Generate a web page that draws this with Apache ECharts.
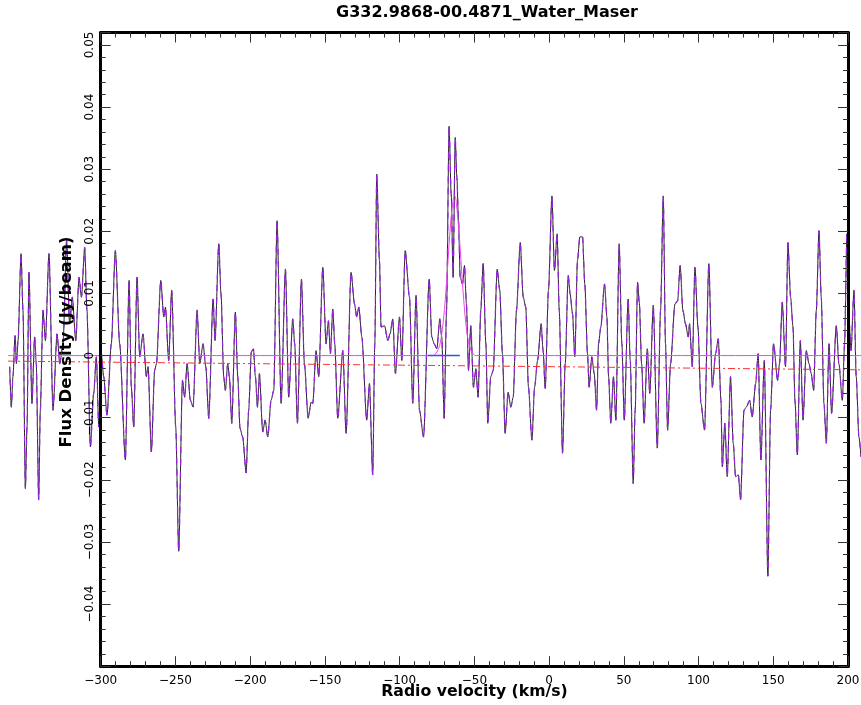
<!DOCTYPE html>
<html><head><meta charset="utf-8">
<script src="https://cdn.jsdelivr.net/npm/echarts@6/dist/echarts.min.js"></script>
<style>html,body{margin:0;padding:0;background:#fff}#c{width:861px;height:705px}</style>
</head><body><div id="c"></div>
<script>
const titleText = 'G332.9868-00.4871_Water_Maser';
const xTitle = 'Radio velocity (km/s)';
const yTitle = 'Flux Density (Jy/beam)';

const velocity = [
-360.9,-359.8,-358.7,-357.3,-356.4,-355.3,-353.3,-352.0,-350.4,-349.3,-348.0,-346.0,-344.2,-343.1,-341.5,-340.4,-338.6,-337.0,-334.6,-331.9,
-329.2,-327.4,-325.2,-322.8,-320.8,-319.0,-316.7,-314.5,-312.9,-310.7,-309.2,-306.9,-304.7,-302.9,-301.3,-299.6,-298.0,-295.8,-292.9,-290.2,
-287.3,-283.5,-281.0,-279.5,-277.9,-275.7,-273.9,-271.7,-269.4,-268.3,-266.1,-263.9,-262.7,-259.8,-257.8,-256.7,-254.5,-252.5,-249.8,-247.8,
-245.3,-243.8,-242.2,-240.0,-238.2,-235.5,-233.7,-231.5,-229.7,-227.7,-224.8,
-223.5,-221.0,-219.5,-217.7,-216.6,-215.0,-213.9,-212.3,-209.9,-208.3,-206.8,-205.0,-202.7,-201.0,-199.2,-197.8,-196.5,-195.1,-193.8,-191.6,
-190.0,-188.2,-186.0,-184.2,-182.0,-179.3,-176.4,-174.2,-171.5,-170.2,-168.4,-165.7,-163.7,-161.2,-159.2,-158.1,-155.9,-154.1,-151.4,-149.2,
-147.6,-146.3,-144.7,-143.4,-141.4,-138.0,-135.8,-132.5,-130.2,-128.7,-127.3,-125.3,-122.0,-120.2,-118.0,-116.6,-115.3,-113.5,-112.4,-110.1,
-107.9,-106.4,-104.6,-102.8,-100.1,-98.5,-96.3,-93.4,-91.2,-89.0,-86.7,-84.0,
-80.2,-78.5,-76.9,-75.1,-73.1,-71.8,-70.2,-68.6,-66.9,-65.5,-64.2,-62.8,-61.7,-60.6,-59.5,-57.9,-56.6,-55.3,-53.9,-52.4,
-50.6,-49.0,-47.5,-45.7,-44.1,-42.3,-41.0,-39.0,-37.4,-34.7,-33.0,-31.2,-29.4,-27.4,-25.6,-24.0,-21.8,-19.3,-17.3,-15.6,
-13.8,-11.5,-9.7,-7.7,-5.3,-4.0,-2.6,-0.4,1.9,3.6,5.4,6.8,9.0,10.8,12.8,14.1,15.7,17.2,19.0,20.6,
22.4,23.9,25.7,26.8,28.6,30.2,31.8,33.1,34.6,37.1,38.7,39.8,41.3,43.1,44.7,46.9,48.7,50.3,52.9,54.3,
56.3,57.6,59.2,60.4,
61.9,63.6,65.7,67.4,69.7,72.4,74.6,76.4,77.9,79.3,81.3,84.2,86.0,87.7,89.5,91.3,93.1,94.0,95.8,97.6,
99.6,101.6,104.0,106.9,109.2,111.4,113.2,115.0,115.9,117.6,119.2,121.4,123.2,124.8,126.6,128.1,130.4,131.9,134.2,135.9,
138.2,139.9,141.7,144.0,146.4,148.2,150.2,152.9,154.2,156.0,158.2,159.8,161.6,163.2,164.5,166.1,168.1,169.9,172.1,173.9,
175.4,177.0,178.8,180.6,182.1,183.9,185.5,187.3,189.0,192.2,193.9,196.2,197.7,199.3,200.6,202.0,204.0,205.5,207.3,208.7
];
const flux = [
-0.0018,-0.0083,-0.0034,0.0032,-0.0013,0.0024,0.0164,0.0073,-0.0214,-0.0115,0.0134,-0.0077,0.0030,-0.0013,-0.0232,-0.0088,0.0073,0.0024,0.0164,-0.0088,
0.0035,-0.0013,0.0019,0.0185,0.0051,0.0094,0.0024,0.0126,0.0094,0.0174,0.0073,-0.0147,-0.0061,-0.0002,-0.0115,0.0003,-0.0034,-0.0096,0.0019,0.0169,
0.0019,-0.0168,0.0121,-0.0051,-0.0115,0.0126,-0.0002,0.0035,-0.0034,-0.0018,-0.0155,-0.0024,-0.0013,0.0121,0.0062,0.0078,-0.0008,0.0105,-0.0115,-0.0315,
-0.0040,-0.0067,-0.0013,-0.0072,-0.0083,0.0073,-0.0013,0.0019,-0.0018,-0.0101,0.0091,
0.0024,0.0180,0.0099,-0.0034,-0.0056,-0.0013,-0.0034,-0.0109,0.0070,-0.0034,-0.0117,-0.0131,-0.0189,-0.0088,0.0006,0.0011,-0.0034,-0.0083,-0.0029,-0.0123,
-0.0104,-0.0131,-0.0072,-0.0056,0.0217,-0.0077,0.0139,-0.0067,0.0059,0.0019,-0.0109,0.0123,-0.0013,-0.0101,-0.0075,-0.0077,0.0008,-0.0034,0.0142,0.0019,
0.0056,0.0003,0.0075,0.0019,-0.0101,0.0008,-0.0125,0.0134,0.0083,0.0062,0.0078,0.0030,-0.0104,-0.0045,-0.0192,0.0019,0.0292,0.0153,0.0046,0.0048,
0.0024,0.0035,0.0059,-0.0029,0.0062,-0.0008,0.0169,0.0094,-0.0077,0.0097,-0.0088,-0.0131,
0.0123,0.0030,0.0019,0.0011,0.0059,0.0030,-0.0101,0.0073,0.0369,0.0260,0.0126,0.0351,0.0287,0.0217,0.0126,0.0115,0.0145,0.0083,-0.0024,0.0048,
-0.0051,-0.0021,-0.0067,0.0073,0.0148,0.0019,-0.0109,-0.0034,-0.0024,0.0139,0.0105,0.0003,-0.0125,-0.0059,-0.0083,-0.0067,0.0073,0.0182,0.0094,0.0078,
-0.0051,-0.0136,-0.0051,-0.0008,0.0051,0.0008,-0.0053,0.0105,0.0257,0.0137,0.0196,0.0073,-0.0157,-0.0013,0.0129,0.0099,0.0067,-0.0002,0.0153,0.0191,
0.0191,0.0115,0.0003,-0.0051,-0.0002,-0.0029,-0.0088,0.0019,0.0046,0.0115,0.0062,-0.0034,-0.0109,-0.0034,-0.0104,0.0180,0.0019,-0.0104,0.0091,-0.0008,
-0.0206,-0.0088,0.0118,0.0085,
-0.0013,-0.0109,0.0011,-0.0061,0.0081,-0.0149,0.0073,0.0257,0.0019,-0.0120,-0.0013,0.0083,0.0088,0.0145,0.0073,0.0051,0.0030,0.0051,-0.0018,0.0142,
0.0046,-0.0077,-0.0120,0.0148,-0.0051,0.0003,0.0027,-0.0072,-0.0179,-0.0109,-0.0195,-0.0034,-0.0141,-0.0195,-0.0192,-0.0232,-0.0088,-0.0083,-0.0072,-0.0099,
-0.0045,0.0003,-0.0168,-0.0008,-0.0355,-0.0088,0.0019,-0.0040,-0.0013,0.0086,-0.0018,0.0182,0.0094,0.0046,-0.0072,-0.0160,0.0024,-0.0104,0.0008,-0.0013,
-0.0029,-0.0056,0.0073,0.0201,0.0094,-0.0077,-0.0141,0.0019,-0.0093,0.0048,-0.0013,-0.0072,0.0019,0.0196,0.0062,0.0008,0.0105,-0.0034,-0.0131,-0.0163
];

const fitVelocity = [-362,-78,-74,-72,-70,-68,-66,-64,-63,-62,-60,-58,-56,-54,-52,-49,210];
const fitFlux     = [0,0,0.0011,0.0032,0.0074,0.0139,0.0210,0.0254,0.0257,0.0245,0.0190,0.0118,0.0059,0.0023,0.0007,0,0];

const baselineVelocity = [-362, 210];
const baselineFlux = [-0.0009, -0.0023];

const windowVelocity = [-81.1, -59.7];
const windowFlux = [0, 0];

const xRange = [-300, 200];
const yRange = [-0.05, 0.052];

// plot frame layout (pixels)
const W = 861, FRAME_L = 100.7, FRAME_R = 848, FRAME_T = 32.5, FRAME_B = 666.2, H = 705;
const pxPerUnit = (FRAME_R - FRAME_L) / (xRange[1] - xRange[0]);
// full-width overlay axis that continues the same velocity scale past the frame
const fullRange = [xRange[0] - FRAME_L / pxPerUnit, xRange[1] + (W - FRAME_R) / pxPerUnit];

function zip(a, b) { return a.map((v, i) => [v, b[i]]); }
const MINUS = '\u2212';
function fmtX(v) { return String(v).replace('-', MINUS); }
function fmtY(v) {
  if (v < -0.0495 || v > 0.0505) return '';
  return String(+v.toFixed(4)).replace('-', MINUS);
}
const FONT = 'DejaVu Sans';
const tickColor = '#333';

function xAx(pos, labels) {
  return {
    type: 'value', gridIndex: 0, position: pos, min: xRange[0], max: xRange[1], interval: 50, z: 5,
    axisLine: { show: true, onZero: false, lineStyle: { color: '#000', width: 3 } },
    axisTick: { show: true, inside: true, length: 10, lineStyle: { color: tickColor, width: 1 } },
    minorTick: { show: true, splitNumber: 5, length: 5, lineStyle: { color: tickColor, width: 1 } },
    axisLabel: { show: labels, margin: 9, fontSize: 12, color: '#000', fontFamily: FONT, formatter: fmtX },
    splitLine: { show: false }, minorSplitLine: { show: false }
  };
}
function yAx(pos, interval, len, line, labels) {
  return {
    type: 'value', gridIndex: 0, position: pos, min: yRange[0], max: yRange[1], interval: interval, z: 5,
    axisLine: { show: line, onZero: false, lineStyle: { color: '#000', width: 3 } },
    axisTick: { show: true, inside: true, length: len, lineStyle: { color: tickColor, width: 1 } },
    axisLabel: { show: labels, rotate: 90, margin: 5, fontSize: 12, color: '#000', fontFamily: FONT, formatter: fmtY },
    splitLine: { show: false }
  };
}
const hiddenAx = (extra) => Object.assign({
  type: 'value', gridIndex: 1, show: false,
  axisLine: { show: false }, axisTick: { show: false }, axisLabel: { show: false }, splitLine: { show: false }
}, extra);

const lineBase = { type: 'line', xAxisIndex: 2, yAxisIndex: 4, symbol: 'none', showSymbol: false, clip: false };

const chart = echarts.init(document.getElementById('c'), null, { renderer: 'canvas' });
chart.setOption({
  animation: false,
  backgroundColor: '#fff',
  grid: [
    { left: FRAME_L, right: W - FRAME_R, top: FRAME_T, bottom: H - FRAME_B, containLabel: false, outerBoundsMode: 'none' },
    { left: 0, right: 0, top: FRAME_T, bottom: H - FRAME_B, containLabel: false, outerBoundsMode: 'none' }
  ],
  xAxis: [xAx('bottom', true), xAx('top', false), hiddenAx({ min: fullRange[0], max: fullRange[1] })],
  yAxis: [
    yAx('left', 0.01, 10, true, true),
    yAx('right', 0.01, 10, true, false),
    yAx('left', 0.002, 5, false, false),
    yAx('right', 0.002, 5, false, false),
    hiddenAx({ min: yRange[0], max: yRange[1] })
  ],
  series: [
    Object.assign({}, lineBase, { data: zip(velocity, flux), z: 2, smooth: 0.25, smoothMonotone: 'x',
      lineStyle: { color: '#262626', width: 1 } }),
    Object.assign({}, lineBase, { data: zip(velocity, flux), z: 3, smooth: 0.25, smoothMonotone: 'x',
      lineStyle: { color: '#9a1ee6', width: 1.2, type: [6, 6] } }),
    Object.assign({}, lineBase, { data: zip(fitVelocity, fitFlux), z: 4, smooth: 0.3,
      lineStyle: { color: '#ee44ee', width: 1 } }),
    Object.assign({}, lineBase, { data: zip(baselineVelocity, baselineFlux), z: 4,
      lineStyle: { color: '#ff3030', width: 1, type: [7, 3, 2, 3] } }),
    Object.assign({}, lineBase, { data: zip(windowVelocity, windowFlux), z: 5,
      lineStyle: { color: '#3355dd', width: 1.5 } })
  ],
  graphic: [
    { type: 'text', x: 487, y: 13, z: 100,
      style: { text: titleText, font: 'bold 16px "DejaVu Sans"', fill: '#000', align: 'center', verticalAlign: 'middle', textAlign: 'center', textVerticalAlign: 'middle' } },
    { type: 'text', x: 474.5, y: 692, z: 100,
      style: { text: xTitle, font: 'bold 15.7px "DejaVu Sans"', fill: '#000', align: 'center', verticalAlign: 'middle', textAlign: 'center', textVerticalAlign: 'middle' } },
    { type: 'text', x: 67, y: 342, rotation: Math.PI / 2, z: 100,
      style: { text: yTitle, font: 'bold 16.5px "DejaVu Sans"', fill: '#000', align: 'center', verticalAlign: 'middle', textAlign: 'center', textVerticalAlign: 'middle' } }
  ]
});
</script></body></html>
